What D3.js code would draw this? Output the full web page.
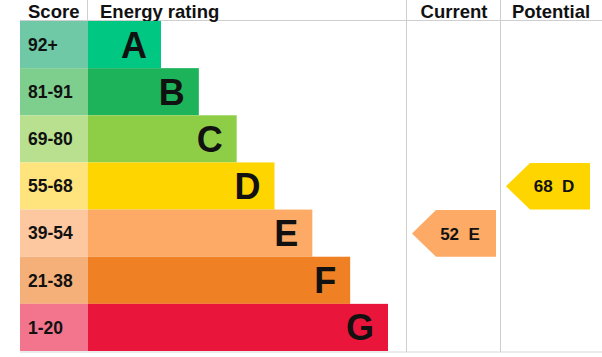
<!DOCTYPE html>
<html>
<head>
<meta charset="utf-8">
<script src="https://cdn.jsdelivr.net/npm/d3@7"></script>
<style>
  body { margin: 0; background: #fff; }
  text { font-family: "Liberation Sans", Arial, sans-serif; font-weight: bold; fill: #111; }
</style>
</head>
<body>
<div id="chart"></div>
<script>
// data
const bands = ['A', 'B', 'C', 'D', 'E', 'F', 'G'];
const scoreRanges = ['92+', '81-91', '69-80', '55-68', '39-54', '21-38', '1-20'];
const barColors = ['#00c781', '#1db35a', '#8dce46', '#ffd500', '#fcaa65', '#ef8023', '#e9153b'];
const scoreColors = ['#6fc9a7', '#7ecf8e', '#b8e08f', '#ffe37c', '#fdc8a0', '#f5b07a', '#f2758d'];
const current = { score: 52, band: 'E' };
const potential = { score: 68, band: 'D' };
const headers = ['Score', 'Energy rating', 'Current', 'Potential'];

const W = 602, H = 357;
const TOP = 21, BOTTOM = 351;
const SCORE_X = 20, BAR_X = 88;
const CUR_X = 407, POT_X = 501, COL_W = 94;

const svg = d3.select('#chart')
  .append('svg')
    .attr('width', W)
    .attr('height', H);

// row scale
const y = d3.scaleBand()
  .domain(bands)
  .range([TOP, BOTTOM]);

// bar length scale (by band index)
const x = d3.scaleLinear()
  .domain([0, bands.length - 1])
  .range([161, 388]);

// grid lines
svg.append('line')
  .attr('x1', SCORE_X).attr('x2', W)
  .attr('y1', TOP - 0.5).attr('y2', TOP - 0.5)
  .attr('stroke', '#cfcfcf');
svg.append('line')
  .attr('x1', SCORE_X).attr('x2', W)
  .attr('y1', BOTTOM + 1).attr('y2', BOTTOM + 1)
  .attr('stroke', '#d8d8d8');
svg.append('line')
  .attr('x1', BAR_X - 0.5).attr('x2', BAR_X - 0.5)
  .attr('y1', 0).attr('y2', TOP)
  .attr('stroke', '#cfcfcf');
[CUR_X, POT_X].forEach(cx => {
  svg.append('line')
    .attr('x1', cx - 0.5).attr('x2', cx - 0.5)
    .attr('y1', 0).attr('y2', BOTTOM + 1)
    .attr('stroke', '#cfcfcf');
});

// headers
const headerX = [28, 100, CUR_X + COL_W / 2 + 0, POT_X + COL_W / 2 + 3];
const headerAnchor = ['start', 'start', 'middle', 'middle'];
svg.selectAll('.header')
  .data(headers)
  .enter().append('text')
    .attr('class', 'header')
    .attr('x', (d, i) => headerX[i])
    .attr('y', 17.5)
    .attr('text-anchor', (d, i) => headerAnchor[i])
    .style('font-size', '18.5px')
    .text(d => d);

// score cells
svg.selectAll('.score')
  .data(bands)
  .enter().append('rect')
    .attr('class', 'score')
    .attr('x', SCORE_X)
    .attr('y', d => y(d))
    .attr('width', BAR_X - SCORE_X)
    .attr('height', y.bandwidth())
    .attr('fill', (d, i) => scoreColors[i]);

svg.selectAll('.scoreLabel')
  .data(scoreRanges)
  .enter().append('text')
    .attr('class', 'scoreLabel')
    .attr('x', 28)
    .attr('y', (d, i) => y(bands[i]) + y.bandwidth() / 2)
    .attr('dy', '0.36em')
    .style('font-size', '17.5px')
    .text(d => d);

// rating bars
svg.selectAll('.bar')
  .data(bands)
  .enter().append('rect')
    .attr('class', 'bar')
    .attr('x', BAR_X)
    .attr('y', d => y(d))
    .attr('width', (d, i) => x(i) - BAR_X)
    .attr('height', y.bandwidth())
    .attr('fill', (d, i) => barColors[i]);

svg.selectAll('.letter')
  .data(bands)
  .enter().append('text')
    .attr('class', 'letter')
    .attr('x', (d, i) => x(i) - 14)
    .attr('y', d => y(d) + y.bandwidth() / 2)
    .attr('dy', '0.36em')
    .attr('text-anchor', 'end')
    .style('font-size', '36px')
    .text(d => d);

// current / potential arrows
function arrow(colX, rating) {
  const i = bands.indexOf(rating.band);
  const top = y(rating.band) + 0.5;
  const h = y.bandwidth() - 0.5;
  const tip = colX + 5, body = colX + 29, right = colX + COL_W - 5;
  svg.append('path')
    .attr('d', `M${tip},${top + h / 2} L${body},${top} L${right},${top} L${right},${top + h} L${body},${top + h} Z`)
    .attr('fill', barColors[i]);
  svg.append('text')
    .attr('x', (body + right) / 2 - 6)
    .attr('y', top + h / 2)
    .attr('dy', '0.36em')
    .attr('text-anchor', 'middle')
    .style('font-size', '17px')
    .style('white-space', 'pre')
    .attr('xml:space', 'preserve')
    .text(`${rating.score}  ${rating.band}`);
}
arrow(CUR_X, current);
arrow(POT_X, potential);
</script>
</body>
</html>
